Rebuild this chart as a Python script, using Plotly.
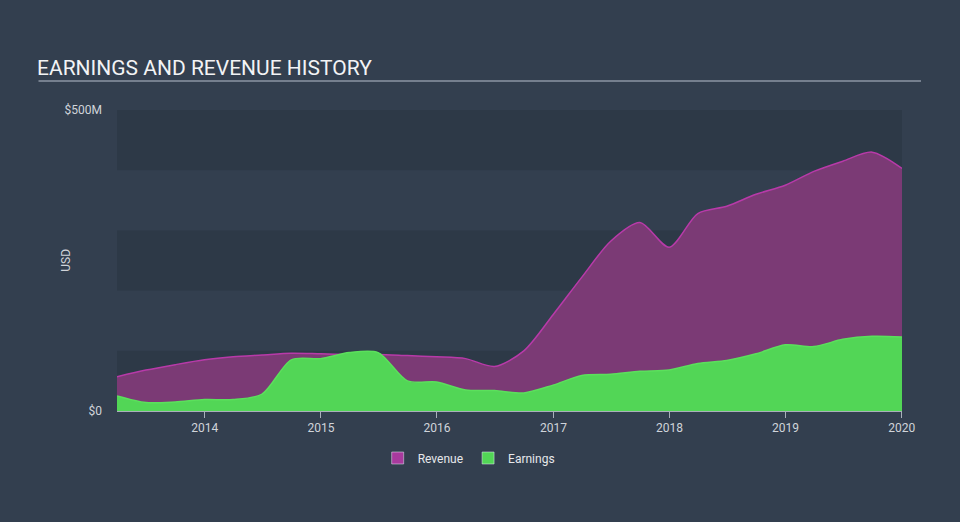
import plotly.graph_objects as go

dates = ["2013-03-31","2013-06-30","2013-09-30","2013-12-31",
         "2014-03-31","2014-06-30","2014-09-30","2014-12-31",
         "2015-03-31","2015-06-30","2015-09-30","2015-12-31",
         "2016-03-31","2016-06-30","2016-09-30","2016-12-31",
         "2017-03-31","2017-06-30","2017-09-30","2017-12-31",
         "2018-03-31","2018-06-30","2018-09-30","2018-12-31",
         "2019-03-31","2019-06-30","2019-09-30","2020-01-02"]
revenue = [57, 68, 77, 85, 90, 93, 96, 95, 94, 94, 92, 90, 87, 74, 100, 160,
           222, 282, 313, 272, 328, 340, 360, 375, 398, 415, 430, 403]
earnings = [25, 14, 15, 19, 19, 28, 85, 87, 97, 97, 50, 48, 35, 34, 30, 43,
            59, 61, 66, 68, 79, 84, 95, 110, 107, 119, 124, 123]
revenue_m = [v * 1e6 for v in revenue]
earnings_m = [v * 1e6 for v in earnings]
years = ["2014", "2015", "2016", "2017", "2018", "2019", "2020"]

BG = "#333f4f"
BAND = "#2d3947"
REV_FILL = "#7b3a75"
REV_SWATCH = "#a83a9e"
ERN_FILL = "#52d656"

fig = go.Figure()
fig.add_trace(go.Scatter(
    x=dates, y=revenue_m, name="Revenue", mode="lines", showlegend=False,
    line=dict(color="#b83aa9", width=1.5, shape="spline", smoothing=0.8),
    fill="tozeroy", fillcolor=REV_FILL, hoverinfo="x+y"))
fig.add_trace(go.Scatter(
    x=dates, y=earnings_m, name="Earnings", mode="lines", showlegend=False,
    line=dict(color="#5be05c", width=1.5, shape="spline", smoothing=0.8),
    fill="tozeroy", fillcolor=ERN_FILL, hoverinfo="x+y"))
# legend entries (square swatches)
fig.add_trace(go.Bar(x=[None], y=[None], name="Revenue", marker_color=REV_SWATCH))
fig.add_trace(go.Bar(x=[None], y=[None], name="Earnings", marker_color=ERN_FILL))

shapes = []
for lo in (0, 200e6, 400e6):
    shapes.append(dict(type="rect", xref="paper", yref="y", x0=0, x1=1,
                       y0=lo, y1=lo + 100e6, fillcolor=BAND, line_width=0,
                       layer="below"))
shapes.append(dict(type="line", xref="paper", yref="paper", x0=-0.10, x1=1.0242,
                   y0=1.096, y1=1.096, line=dict(color="#8c96a3", width=1.5)))

fig.update_layout(
    width=960, height=522,
    paper_bgcolor=BG, plot_bgcolor=BG,
    margin=dict(l=117, r=58, t=110, b=111),
    font=dict(family="Roboto, sans-serif", color="#d0d4da", size=12),
    shapes=shapes,
    showlegend=True,
    legend=dict(orientation="h", x=0.448, xanchor="center", y=-0.108, yanchor="top",
                font=dict(size=12, color="#e6e8eb"), bgcolor="rgba(0,0,0,0)",
                traceorder="normal", itemwidth=30),
    xaxis=dict(
        type="date", range=["2013-03-31", "2020-01-02"],
        tickvals=[f"{y}-01-01" for y in years], ticktext=years,
        showgrid=False, zeroline=False, showline=True, linecolor="#a9b0ba",
        linewidth=1, ticks="outside", ticklen=6, tickcolor="#a9b0ba",
        tickfont=dict(size=12, color="#d0d4da")),
    yaxis=dict(
        range=[0, 500e6], tickvals=[0, 500e6], ticktext=["$0", "$500M"],
        showgrid=False, zeroline=False, showline=False, ticks="",
        ticklabelstandoff=14,
        tickfont=dict(size=12, color="#d0d4da")),
    annotations=[
        dict(text="EARNINGS AND REVENUE HISTORY", xref="paper", yref="paper",
             x=-0.1045, y=1.14, xanchor="left", yanchor="middle", showarrow=False,
             font=dict(size=21, color="#f2f3f5")),
        dict(text="USD", xref="paper", yref="paper", x=-0.066, y=0.5,
             xanchor="center", yanchor="middle", textangle=-90, showarrow=False,
             font=dict(size=12, color="#d0d4da")),
    ],
)
fig.write_html("out.html")
